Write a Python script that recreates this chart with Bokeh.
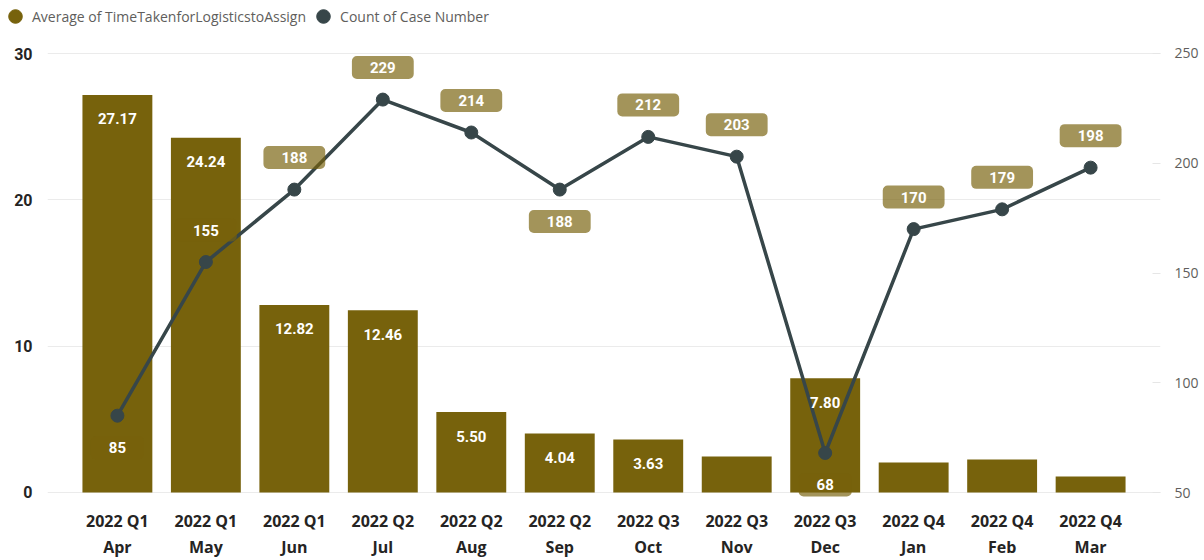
from bokeh.plotting import figure
from bokeh.layouts import column, row
from bokeh.models import (ColumnDataSource, Range1d, LinearAxis, FixedTicker,
                          Legend, LegendItem)
from bokeh.core.properties import value
from bokeh.embed import file_html
from bokeh.resources import INLINE

# ---------------- data ----------------
quarters = ["2022 Q1", "2022 Q1", "2022 Q1", "2022 Q2", "2022 Q2", "2022 Q2",
            "2022 Q3", "2022 Q3", "2022 Q3", "2022 Q4", "2022 Q4", "2022 Q4"]
months = ["Apr", "May", "Jun", "Jul", "Aug", "Sep",
          "Oct", "Nov", "Dec", "Jan", "Feb", "Mar"]
avg_time = [27.17, 24.24, 12.82, 12.46, 5.50, 4.04, 3.63, 2.46, 7.80, 2.05, 2.26, 1.09]
case_count = [85, 155, 188, 229, 214, 188, 212, 203, 68, 170, 179, 198]
left_ticks = [0, 10, 20, 30]
right_ticks = [50, 100, 150, 200, 250]
series_names = ["Average of TimeTakenforLogisticstoAssign", "Count of Case Number"]

# ---------------- styling ----------------
BAR = "#77620C"
LINE = "#374649"
# count label placement: +1 above the point, -1 below
label_side = [-1, 1, 1, 1, 1, -1, 1, 1, -1, 1, 1, 1]

n = len(months)
xs = list(range(n))

p = figure(width=1204, height=524, output_backend="svg", toolbar_location=None,
           x_range=Range1d(-0.79, n - 1 + 0.79),
           y_range=Range1d(-0.547, 30.547),
           min_border_left=47, min_border_right=44,
           min_border_top=9, min_border_bottom=60)
p.outline_line_color = None
p.background_fill_color = "white"
p.extra_y_ranges = {"cnt": Range1d(46.36, 253.64)}

src = ColumnDataSource(dict(x=xs, avg=avg_time, cnt=case_count))

p.vbar(x="x", top="avg", width=0.79, source=src, fill_color=BAR, line_color=None)

p.line(x="x", y="cnt", source=src, y_range_name="cnt",
       line_color=LINE, line_width=3.5)
p.scatter(x="x", y="cnt", source=src, y_range_name="cnt", size=13,
          fill_color=LINE, line_color=LINE)

# bar value labels (only for bars tall enough)
big = [i for i, v in enumerate(avg_time) if v >= 3]
bsrc = ColumnDataSource(dict(x=[xs[i] for i in big], y=[avg_time[i] for i in big],
                             t=[f"{avg_time[i]:.2f}" for i in big]))
p.text(x="x", y="y", text="t", source=bsrc, y_offset=24,
       text_align="center", text_baseline="middle",
       text_font=value("Roboto"), text_font_style="bold",
       text_font_size="15px", text_color="white")

# count labels with semi-transparent rounded boxes
for side in (1, -1):
    idx = [i for i in range(n) if label_side[i] == side]
    lsrc = ColumnDataSource(dict(x=[xs[i] for i in idx],
                                 y=[case_count[i] for i in idx],
                                 t=[str(case_count[i]) for i in idx]))
    p.text(x="x", y="y", text="t", source=lsrc, y_range_name="cnt",
           y_offset=-32 * side,
           text_align="center", text_baseline="middle",
           text_font=value("Roboto"), text_font_style="bold",
           text_font_size="15px", text_color="white",
           background_fill_color=BAR, background_fill_alpha=0.68,
           border_radius=5,
           padding=dict(left=18, right=18, top=6, bottom=6))

# axes
p.xaxis.ticker = FixedTicker(ticks=xs)
p.xaxis.major_label_overrides = {i: f"{q}\n{m}" for i, (q, m) in enumerate(zip(quarters, months))}
p.xaxis.axis_line_color = None
p.xaxis.major_tick_line_color = None
p.xaxis.minor_tick_line_color = None
p.xaxis.major_label_standoff = 3
p.xaxis.major_label_text_font = "Open Sans"
p.xaxis.major_label_text_font_style = "bold"
p.xaxis.major_label_text_font_size = "16px"
p.xaxis.major_label_text_color = "#252423"

p.yaxis.ticker = FixedTicker(ticks=left_ticks)
p.yaxis.axis_line_color = None
p.yaxis.major_tick_line_color = None
p.yaxis.minor_tick_line_color = None
p.yaxis.major_label_standoff = 9
p.yaxis.major_label_text_font = "Roboto"
p.yaxis.major_label_text_font_style = "bold"
p.yaxis.major_label_text_font_size = "16px"
p.yaxis.major_label_text_color = "#252423"

ra = LinearAxis(y_range_name="cnt", ticker=FixedTicker(ticks=right_ticks))
ra.axis_line_color = None
ra.major_tick_in = 8
ra.major_tick_out = 0
ra.major_tick_line_color = "#E6E6E6"
ra.minor_tick_line_color = None
ra.major_label_standoff = 14
ra.major_label_text_font = "Open Sans"
ra.major_label_text_font_size = "14px"
ra.major_label_text_color = "#605E5C"
p.add_layout(ra, "right")

p.xgrid.grid_line_color = None
p.ygrid.ticker = FixedTicker(ticks=left_ticks)
p.ygrid.grid_line_color = "#EBEBEB"
p.ygrid.grid_line_width = 1

# ---------------- legend strip ----------------
lg = figure(width=1204, height=36, output_backend="svg", toolbar_location=None,
            x_range=Range1d(0, 1204), y_range=Range1d(0, 36),
            min_border=0, min_border_left=0, min_border_right=0,
            min_border_top=0, min_border_bottom=0)
lg.axis.visible = False
lg.grid.grid_line_color = None
lg.outline_line_color = None
off = dict(x=[-100], y=[-100])
d1 = lg.scatter(x="x", y="y", source=ColumnDataSource(off), marker="circle",
                fill_color=BAR, line_color=BAR)
d2 = lg.scatter(x="x", y="y", source=ColumnDataSource(off), marker="circle",
                fill_color=LINE, line_color=LINE)
legend = Legend(items=[LegendItem(label=series_names[0], renderers=[d1]),
                       LegendItem(label=series_names[1], renderers=[d2])],
                orientation="horizontal", location=(-2, 3),
                padding=0, margin=0, spacing=0, label_standoff=0,
                glyph_width=34, glyph_height=34, label_height=20,
                label_text_font="Open Sans", label_text_font_size="14px",
                label_text_color="#605E5C",
                background_fill_alpha=0, border_line_color=None)
lg.add_layout(legend, "center")

layout = column(row(lg), p, spacing=0)
open("out.html", "w").write(file_html(layout, INLINE))
